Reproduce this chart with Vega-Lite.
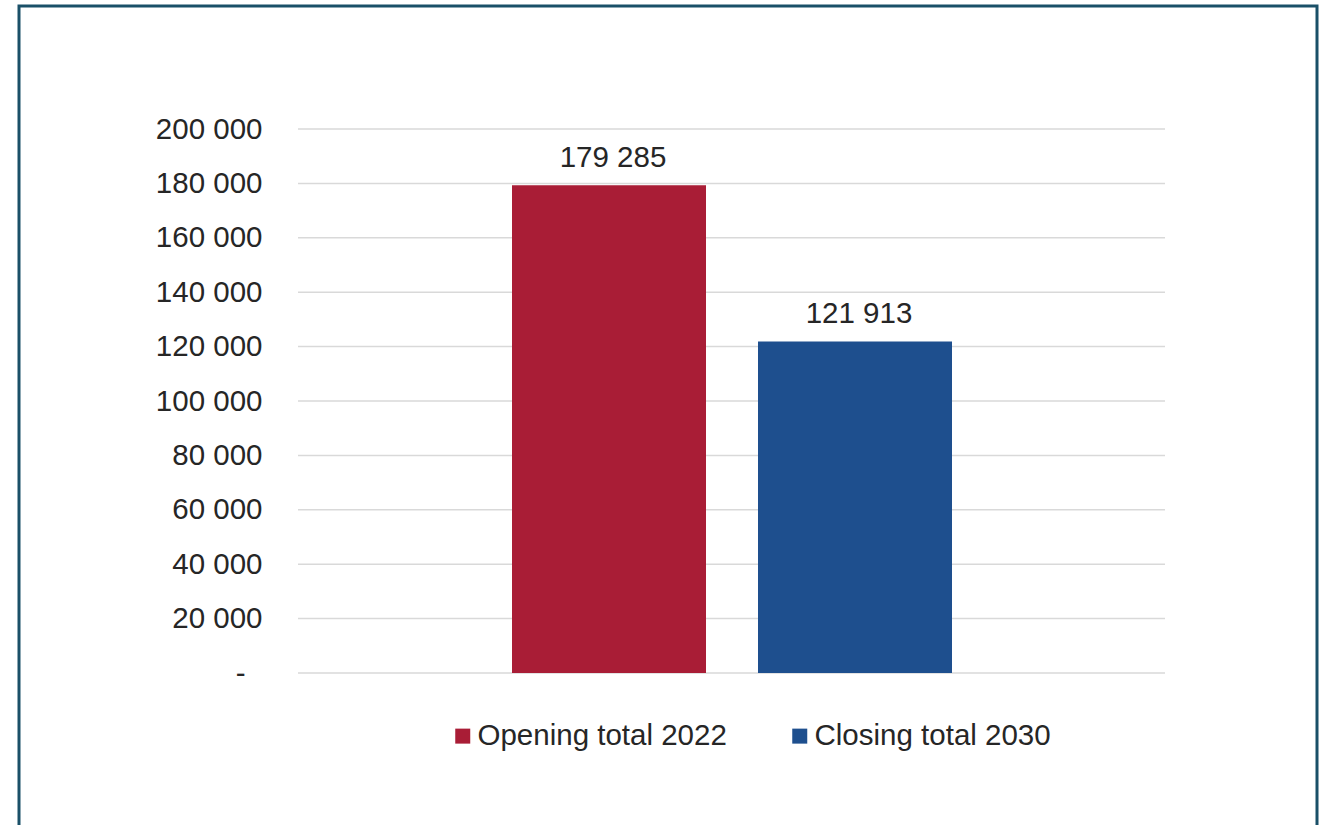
{
  "$schema": "https://vega.github.io/schema/vega-lite/v6.json",
  "autosize": "none",
  "width": 1298,
  "height": 819,
  "padding": {"left": 19, "top": 6, "right": 10, "bottom": 0},
  "background": "white",
  "config": {
    "view": {"stroke": "#1a5068", "strokeWidth": 3, "strokeDash": [2117, 1298]},
    "font": "Liberation Sans",
    "locale": {"number": {"decimal": ".", "thousands": " ", "grouping": [3], "currency": ["", ""]}},
    "axis": {"grid": false, "ticks": false, "domain": false}
  },
  "datasets": {
    "bars": [
      {"series": "Opening total 2022", "value": 179285},
      {"series": "Closing total 2030", "value": 121913}
    ],
    "grid": [
      {"v": 0}, {"v": 20000}, {"v": 40000}, {"v": 60000}, {"v": 80000}, {"v": 100000},
      {"v": 120000}, {"v": 140000}, {"v": 160000}, {"v": 180000}, {"v": 200000}
    ]
  },
  "layer": [
    {
      "data": {"name": "grid"},
      "mark": {"type": "rule", "color": "#d9d9d9", "strokeWidth": 1.5},
      "encoding": {
        "y": {
          "field": "v", "type": "quantitative",
          "scale": {"domain": [-55882, 245221], "nice": false, "zero": false},
          "axis": {
            "title": null, "values": [0, 20000, 40000, 60000, 80000, 100000, 120000, 140000, 160000, 180000, 200000],
            "format": ",.0f", "labelExpr": "datum.value === 0 ? '-' : datum.label",
            "offset": -243, "labelPadding": {"condition": {"test": "datum.value === 0", "value": 17}, "value": 0},
            "labelFontSize": 29.5, "labelColor": "#262626", "labelFont": "Liberation Sans"
          }
        },
        "x": {
          "datum": "Opening total 2022", "type": "nominal", "bandPosition": -1.1031,
          "scale": {"domain": ["Opening total 2022", "Closing total 2030"], "range": [493, 933], "paddingInner": 0.21138, "paddingOuter": 0, "round": false},
          "axis": null
        },
        "x2": {"datum": "Closing total 2030", "bandPosition": 2.0979}
      }
    },
    {
      "data": {"name": "bars"},
      "mark": {"type": "bar"},
      "encoding": {
        "x": {
          "field": "series", "type": "nominal",
          "scale": {"domain": ["Opening total 2022", "Closing total 2030"], "range": [493, 933], "paddingInner": 0.21138, "paddingOuter": 0, "round": false},
          "axis": null
        },
        "y": {
          "field": "value", "type": "quantitative",
          "scale": {"domain": [-55882, 245221], "nice": false, "zero": false},
          "axis": {
            "title": null, "values": [0, 20000, 40000, 60000, 80000, 100000, 120000, 140000, 160000, 180000, 200000],
            "format": ",.0f", "labelExpr": "datum.value === 0 ? '-' : datum.label",
            "offset": -243, "labelPadding": {"condition": {"test": "datum.value === 0", "value": 17}, "value": 0},
            "labelFontSize": 29.5, "labelColor": "#262626", "labelFont": "Liberation Sans"
          }
        },
        "y2": {"datum": 0},
        "color": {
          "field": "series", "type": "nominal",
          "scale": {"domain": ["Opening total 2022", "Closing total 2030"], "range": ["#a91d36", "#1e4f8e"]},
          "legend": {
            "title": null, "orient": "none", "legendX": 429, "legendY": 715,
            "direction": "horizontal", "symbolType": "square", "symbolSize": 225,
            "symbolStrokeWidth": 0, "symbolOpacity": 1, "labelFontSize": 29.5, "labelColor": "#262626",
            "labelFont": "Liberation Sans", "labelOffset": 0, "labelLimit": 0, "columnPadding": 58, "padding": 0
          }
        }
      }
    },
    {
      "data": {"name": "bars"},
      "mark": {"type": "text", "baseline": "alphabetic", "dy": -18, "dx": 4, "fontSize": 29.5, "color": "#262626"},
      "encoding": {
        "x": {
          "field": "series", "type": "nominal",
          "scale": {"domain": ["Opening total 2022", "Closing total 2030"], "range": [493, 933], "paddingInner": 0.21138, "paddingOuter": 0, "round": false},
          "axis": null
        },
        "y": {
          "field": "value", "type": "quantitative",
          "scale": {"domain": [-55882, 245221], "nice": false, "zero": false},
          "axis": {
            "title": null, "values": [0, 20000, 40000, 60000, 80000, 100000, 120000, 140000, 160000, 180000, 200000],
            "format": ",.0f", "labelExpr": "datum.value === 0 ? '-' : datum.label",
            "offset": -243, "labelPadding": {"condition": {"test": "datum.value === 0", "value": 17}, "value": 0},
            "labelFontSize": 29.5, "labelColor": "#262626", "labelFont": "Liberation Sans"
          }
        },
        "text": {"field": "value", "type": "quantitative", "format": ",.0f"}
      }
    }
  ]
}
